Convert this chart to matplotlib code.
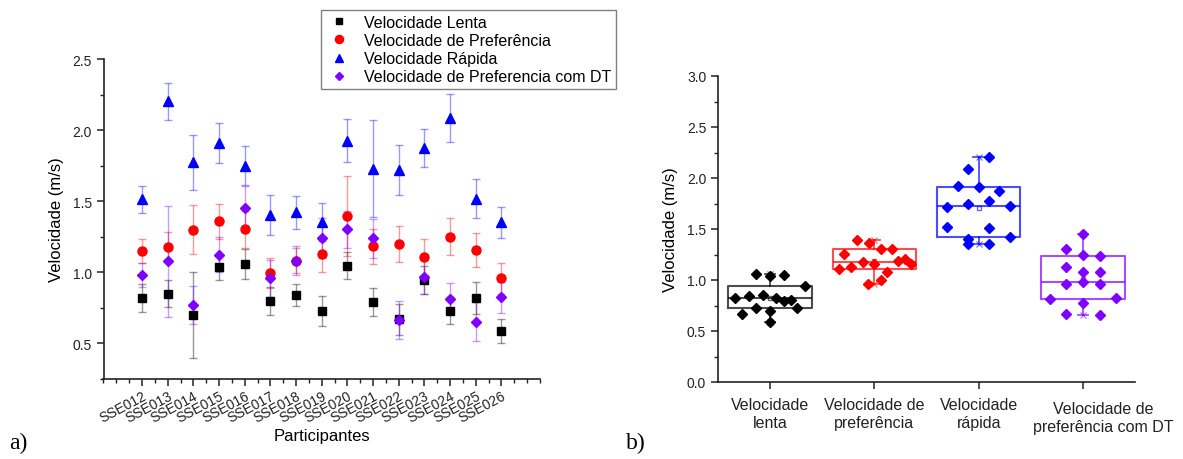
import numpy as np
import matplotlib.pyplot as plt
import matplotlib.transforms as mtransforms
from matplotlib.ticker import MultipleLocator, FixedLocator

plt.rcParams['font.family'] = ['Liberation Sans', 'DejaVu Sans']

# Dados
participantes = ['SSE012', 'SSE013', 'SSE014', 'SSE015', 'SSE016', 'SSE017', 'SSE018',
                 'SSE019', 'SSE020', 'SSE021', 'SSE022', 'SSE023', 'SSE024', 'SSE025', 'SSE026']

lenta = [0.82, 0.85, 0.70, 1.035, 1.06, 0.80, 0.84, 0.73, 1.045, 0.79, 0.67, 0.945, 0.73, 0.82, 0.59]
lenta_dp = [0.10, 0.093, 0.30, 0.09, 0.105, 0.10, 0.077, 0.105, 0.095, 0.10, 0.11, 0.10, 0.095, 0.115, 0.085]

pref = [1.152, 1.178, 1.30, 1.358, 1.302, 0.997, 1.082, 1.129, 1.394, 1.183, 1.201, 1.108, 1.251, 1.157, 0.958]
pref_dp = [0.085, 0.107, 0.17, 0.125, 0.13, 0.105, 0.09, 0.125, 0.28, 0.125, 0.125, 0.125, 0.13, 0.118, 0.107]

rapida = [1.513, 2.202, 1.773, 1.912, 1.75, 1.405, 1.424, 1.351, 1.926, 1.729, 1.719, 1.872, 2.085, 1.518, 1.351]
rapida_dp = [0.097, 0.13, 0.196, 0.14, 0.138, 0.14, 0.116, 0.133, 0.15, 0.343, 0.175, 0.133, 0.168, 0.137, 0.111]

pref_dt = [0.979, 1.077, 0.770, 1.124, 1.455, 0.958, 1.082, 1.241, 1.302, 1.239, 0.665, 0.965, 0.815, 0.653, 0.824]
pref_dt_dp = [0.085, 0.39, 0.135, 0.125, 0.15, 0.13, 0.10, 0.14, 0.13, 0.137, 0.135, 0.12, 0.108, 0.135, 0.11]

nomes_legenda = ['Velocidade Lenta', 'Velocidade de Preferência', 'Velocidade Rápida',
                 'Velocidade de Preferencia com DT']
nomes_box = ['Velocidade\nlenta', 'Velocidade de\npreferência', 'Velocidade\nrápida',
             'Velocidade de\npreferência com DT']

# deslocamento horizontal dos pontos no boxplot
jitter = [
    [-0.34, -0.07, 0, 0, -0.14, 0.2, -0.2, -0.14, 0.13, 0.13, -0.27, 0.33, 0.26, 0.06, 0],
    [0.35, -0.11, 0.06, -0.05, 0.17, 0.06, 0.12, -0.22, -0.17, 0.23, 0.29, -0.34, -0.29, 0, -0.06],
    [0.1, 0.1, 0.1, 0, -0.1, -0.1, 0.3, -0.1, -0.2, 0.3, -0.3, 0.2, -0.1, -0.3, 0.1],
    [0, 0, 0, -0.16, 0, -0.16, 0.16, 0, -0.16, 0.16, -0.16, 0.16, -0.32, 0.16, 0.32],
]

cores = ['black', '#ff0000', '#0000ff', '#8000ff']
marcadores = ['s', 'o', '^', 'D']
tamanhos = [5.5, 6.5, 7, 5]
series = [lenta, pref, rapida, pref_dt]
desvios = [lenta_dp, pref_dp, rapida_dp, pref_dt_dp]

fig = plt.figure(figsize=(11.83, 4.6), dpi=100)

# ---------- a) ----------
ax1 = fig.add_axes([103.5 / 1183, 1 - 380 / 460, 436.5 / 1183, 320 / 460])
x = np.arange(len(participantes))
handles = []
for s, dp, c, m, ms, nome in zip(series, desvios, cores, marcadores, tamanhos, nomes_legenda):
    cont = ax1.errorbar(x, s, yerr=dp, fmt=m, color=c, ms=ms, ecolor=c, elinewidth=1,
                        capsize=3, capthick=1, label=nome)
    for barra in cont[2]:
        barra.set_alpha(0.4)
    for cap in cont[1]:
        cap.set_alpha(0.4)
    handles.append(cont[0])

ax1.set_xlim(-1.5, 15.5)
ax1.set_ylim(0.25, 2.5)
ax1.set_xticks(x)
ax1.set_xticklabels(participantes, rotation=28, ha='right', rotation_mode='anchor', fontsize=10)
ax1.xaxis.set_minor_locator(FixedLocator(np.arange(-1.5, 15.6, 0.5)))
ax1.yaxis.set_minor_locator(MultipleLocator(0.25))
ax1.set_yticks([0.5, 1.0, 1.5, 2.0, 2.5])
ax1.set_ylabel('Velocidade (m/s)', fontsize=12, labelpad=6)
ax1.set_xlabel('Participantes', fontsize=12, labelpad=2)

fig.legend(handles, nomes_legenda, loc='upper left', bbox_to_anchor=(321 / 1183, 1 - 11 / 460),
           fontsize=11.5, frameon=True, fancybox=False, edgecolor='#808080', framealpha=1,
           borderaxespad=0, handletextpad=0.8, labelspacing=0.2, borderpad=0.3,
           handlelength=1.6, markerscale=0.9)

# ---------- b) ----------
ax2 = fig.add_axes([718 / 1183, 1 - 383 / 460, 417 / 1183, 306 / 460])
pos = np.arange(1, 5)
stats = []
for s in series:
    v = np.array(s)
    q1, med, q3 = np.percentile(v, [25, 50, 75], method='weibull')
    stats.append(dict(med=med, q1=q1, q3=q3, whislo=v.min(), whishi=v.max(),
                      mean=v.mean(), fliers=[]))

bp = ax2.bxp(stats, positions=pos, widths=0.8, showmeans=True, patch_artist=False,
             capwidths=0.1)
for i, c in enumerate(cores):
    for art in [bp['boxes'][i], bp['medians'][i]]:
        art.set_color(c)
        art.set_alpha(0.7)
        art.set_linewidth(1.5)
    for art in bp['whiskers'][2 * i:2 * i + 2] + bp['caps'][2 * i:2 * i + 2]:
        art.set_color(c)
        art.set_alpha(0.7)
        art.set_linewidth(1.3)
    mean = bp['means'][i]
    mean.set_marker('s')
    mean.set_markerfacecolor('none')
    mean.set_markeredgecolor(c)
    mean.set_markersize(3.5)
    mean.set_alpha(0.6)
    ax2.plot([pos[i], pos[i]], [stats[i]['whislo'], stats[i]['whishi']], 'x', color=c,
             ms=4, alpha=0.6, mew=0.8)
    ax2.plot(pos[i] + np.array(jitter[i]), series[i], 'D', color=c, ms=5.5, zorder=3)

ax2.set_xlim(0.5, 4.5)
ax2.set_ylim(0, 3.0)
ax2.set_xticks(pos)
ax2.set_xticklabels(nomes_box)
ax2.yaxis.set_major_locator(MultipleLocator(0.5))
ax2.yaxis.set_minor_locator(MultipleLocator(0.25))
ax2.yaxis.set_major_formatter(plt.FormatStrFormatter('%.1f'))
ax2.set_ylabel('Velocidade (m/s)', fontsize=12, labelpad=6)

for ax in [ax1, ax2]:
    ax.spines['top'].set_visible(False)
    ax.spines['right'].set_visible(False)
    for sp in ['left', 'bottom']:
        ax.spines[sp].set_linewidth(1.2)
        ax.spines[sp].set_color('#222222')
    ax.tick_params(which='major', direction='out', length=5, width=1.1, labelsize=10,
                   colors='#222222')
    ax.tick_params(which='minor', direction='out', length=3, width=1.0, colors='#222222')
ax1.tick_params(axis='x', which='major', pad=2, labelsize=10)
ax2.tick_params(axis='x', which='minor', length=0)
ax2.tick_params(axis='x', labelsize=11.5, pad=6)

# o ultimo rotulo esta deslocado para a direita na figura original
ultimo = ax2.get_xticklabels()[-1]
ultimo.set_transform(ultimo.get_transform() +
                     mtransforms.ScaledTranslation(20 / 100, -4 / 100, fig.dpi_scale_trans))

fig.text(9 / 1183, 1 - 443 / 460, 'a)', fontsize=17, family='Liberation Serif', va='center')
fig.text(626 / 1183, 1 - 443 / 460, 'b)', fontsize=17, family='Liberation Serif', va='center')

fig.savefig('out.png', dpi=100)
